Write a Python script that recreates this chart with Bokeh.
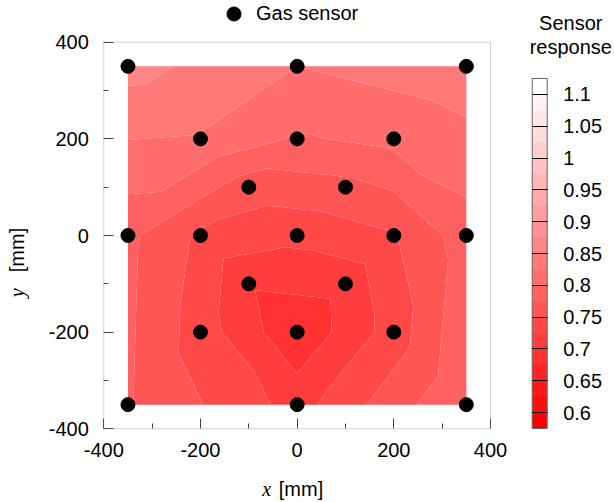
import numpy as np
from bokeh.plotting import figure
from bokeh.models import (Range1d, FixedTicker, LinearColorMapper, ColorBar, Label,
                          Legend, LegendItem, CustomJSTickFormatter, BoxAnnotation)
from bokeh.embed import file_html
from bokeh.resources import INLINE

# ---- data (sensor positions in mm and their responses) ----
sensor_x = [-350, 0, 350, -200, 0, 200, -100, 100, -350, -200, 0, 200, 350,
            -100, 100, -200, 0, 200, -350, 0, 350]
sensor_y = [350, 350, 350, 200, 200, 200, 100, 100, 0, 0, 0, 0, 0,
            -100, -100, -200, -200, -200, -350, -350, -350]
response = [0.859, 0.825, 0.841, 0.823, 0.797, 0.807, 0.761, 0.768,
            0.781, 0.745, 0.732, 0.748, 0.788, 0.703, 0.709,
            0.738, 0.680, 0.736, 0.778, 0.715, 0.800]
# triangulation of the sensor grid (indices into the sensor arrays)
triangles = [(0, 1, 3), (1, 4, 3), (1, 2, 5), (1, 4, 5), (0, 3, 8), (3, 8, 9),
             (3, 9, 6), (3, 6, 4), (4, 6, 7), (4, 7, 5), (6, 7, 10), (6, 9, 10),
             (7, 10, 11), (5, 7, 11), (5, 11, 12), (2, 5, 12),
             (18, 19, 15), (19, 16, 15), (19, 20, 17), (19, 16, 17), (18, 15, 8),
             (15, 8, 9), (15, 9, 13), (15, 13, 16), (16, 13, 14), (16, 14, 17),
             (13, 14, 10), (13, 9, 10), (14, 10, 11), (17, 14, 11), (17, 11, 12),
             (20, 17, 12)]
level_low, level_high, level_step = 0.575, 1.125, 0.025
cb_ticks = [0.6, 0.65, 0.7, 0.75, 0.8, 0.85, 0.9, 0.95, 1.0, 1.05, 1.1]
axis_lim = (-400, 400)
axis_major = [-400, -200, 0, 200, 400]
axis_minor = [-300, -100, 100, 300]

FONT = "Liberation Sans"
SERIF = "Liberation Serif"

# ---- layout (pixels on the page) ----
W, H = 612, 500
AX_LEFT, AX_RIGHT = 103.3, 490.0      # pixel of x = -400 / 400
AX_TOP, AX_BOTTOM = 41.7, 428.3       # pixel of y = 400 / -400

kx = (AX_RIGHT - AX_LEFT) / (axis_lim[1] - axis_lim[0])
ky = (AX_BOTTOM - AX_TOP) / (axis_lim[1] - axis_lim[0])
x_range = Range1d(axis_lim[0] - AX_LEFT / kx, axis_lim[1] + (W - AX_RIGHT) / kx)
y_range = Range1d(axis_lim[0] - (H - AX_BOTTOM) / ky, axis_lim[1] + AX_TOP / ky)

levels = np.round(np.arange(level_low, level_high + level_step / 2, level_step), 4)
n_bands = len(levels) - 1
palette = []
for i in range(n_bands):
    g = int(round(255 * i / (n_bands - 1)))
    palette.append("#ff%02x%02x" % (g, g))

# linear interpolation of sensor values over the triangulation
px = np.array(sensor_x, float)
py = np.array(sensor_y, float)
pz = np.array(response, float)
gx = np.linspace(px.min(), px.max(), 351)
gy = np.linspace(py.min(), py.max(), 351)
X, Y = np.meshgrid(gx, gy)
Z = np.full(X.shape, np.nan)
for a, b, c in triangles:
    x1, y1, x2, y2, x3, y3 = px[a], py[a], px[b], py[b], px[c], py[c]
    det = (y2 - y3) * (x1 - x3) + (x3 - x2) * (y1 - y3)
    l1 = ((y2 - y3) * (X - x3) + (x3 - x2) * (Y - y3)) / det
    l2 = ((y3 - y1) * (X - x3) + (x1 - x3) * (Y - y3)) / det
    l3 = 1 - l1 - l2
    m = (l1 >= -1e-9) & (l2 >= -1e-9) & (l3 >= -1e-9)
    Z[m] = (l1 * pz[a] + l2 * pz[b] + l3 * pz[c])[m]

p = figure(width=W, height=H, output_backend="svg", toolbar_location=None,
           x_range=x_range, y_range=y_range,
           min_border_left=0, min_border_right=0, min_border_top=0,
           min_border_bottom=0)
p.grid.visible = False
p.outline_line_color = None
p.background_fill_color = "white"
p.border_fill_color = "white"

p.contour(gx, gy, Z, levels=levels, fill_color=palette)

r = p.scatter(sensor_x, sensor_y, size=14, fill_color="black", line_color="black")

# plot box
p.add_layout(BoxAnnotation(left=axis_lim[0], right=axis_lim[1], bottom=axis_lim[0],
                           top=axis_lim[1], fill_color=None, line_color="#666666",
                           line_width=1))

for ax in (p.xaxis[0], p.yaxis[0]):
    ax.fixed_location = axis_lim[0]
    ax.bounds = axis_lim
    ax.ticker = FixedTicker(ticks=axis_major, minor_ticks=axis_minor)
    ax.formatter = CustomJSTickFormatter(code="return tick.toString();")
    ax.major_tick_in = 10
    ax.major_tick_out = 0
    ax.minor_tick_in = 5
    ax.minor_tick_out = 0
    ax.axis_line_color = None
    ax.major_tick_line_color = "#444444"
    ax.minor_tick_line_color = "#444444"
    ax.major_label_text_font = FONT
    ax.major_label_text_font_size = "20px"
    ax.major_label_text_color = "black"
    ax.axis_label = None
p.xaxis[0].major_label_standoff = 14
p.yaxis[0].major_label_standoff = 15

# colour bar
mapper = LinearColorMapper(palette=palette, low=level_low, high=level_high)
cb = ColorBar(color_mapper=mapper, location=(531.7, H - 428), width=15, height=350,
              padding=0, margin=0,
              ticker=FixedTicker(ticks=cb_ticks),
              formatter=CustomJSTickFormatter(code="return String(Math.round(tick*100)/100);"),
              major_tick_in=15, major_tick_out=0, major_tick_line_color="black",
              major_tick_line_width=1.2, minor_tick_line_color=None,
              bar_line_color="#666666", border_line_color=None,
              background_fill_color=None, label_standoff=16,
              major_label_text_font=FONT, major_label_text_font_size="20px",
              major_label_text_color="black")
p.add_layout(cb)


def page_label(x, y, text, **kw):
    opts = dict(text_font=FONT, text_font_size="20px", text_color="black",
                text_baseline="alphabetic")
    opts.update(kw)
    p.add_layout(Label(x=x, y=H - y, x_units="screen", y_units="screen",
                       text=text, **opts))


# colour bar title
page_label(570.3, 22.5, "Sensor", text_align="center")
page_label(570.3, 46.5, "response", text_align="center")

# axis titles
page_label(261.7, 488, "x", text_font=SERIF, text_font_style="italic")
page_label(278.3, 488, "[mm]")
page_label(16.5, 296.7, "y", text_font=SERIF, text_font_style="italic", angle=np.pi / 2)
page_label(16.5, 271.7, "[mm]", angle=np.pi / 2)

# legend above the box
legend = Legend(items=[LegendItem(label="Gas sensor", renderers=[r])],
                location=(216, H - 31), glyph_width=35, glyph_height=35,
                padding=0, margin=0, spacing=0, label_standoff=5,
                border_line_color=None, background_fill_alpha=0,
                label_text_font=FONT, label_text_font_size="20px",
                label_text_color="black")
p.add_layout(legend)

open("out.html", "w").write(file_html(p, INLINE))
